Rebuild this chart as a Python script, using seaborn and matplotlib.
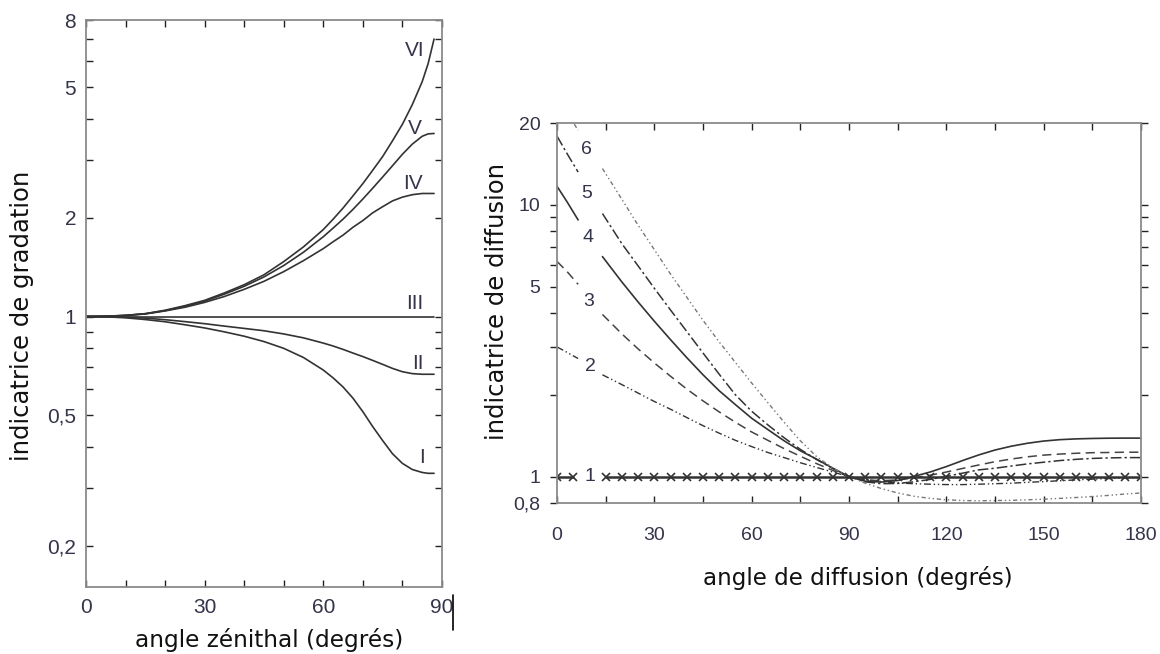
import numpy as np
import pandas as pd
import matplotlib
matplotlib.use("Agg")
import matplotlib.pyplot as plt
import seaborn as sns
from matplotlib.ticker import FixedLocator, FuncFormatter, NullFormatter
from matplotlib.lines import Line2D

# ---- left panel: indicatrice de gradation vs angle zenithal ----
zen_angle = [0, 5, 10, 15, 20, 25, 30, 35, 40, 45, 50, 55, 60, 62.5, 65, 67.5, 70,
             72.5, 75, 77.5, 80, 82.5, 85, 86.5, 88]
grad_I = [1, 0.998, 0.991, 0.979, 0.964, 0.944, 0.923, 0.898, 0.871, 0.839, 0.80, 0.75,
          0.687, 0.65, 0.61, 0.564, 0.513, 0.462, 0.419, 0.382, 0.357, 0.342, 0.335, 0.333, 0.333]
grad_II = [1, 0.999, 0.995, 0.989, 0.978, 0.965, 0.951, 0.935, 0.92, 0.905, 0.885, 0.861,
           0.83, 0.813, 0.794, 0.774, 0.755, 0.735, 0.715, 0.695, 0.679, 0.67, 0.667, 0.667, 0.667]
grad_III = [1] * 25
grad_IV = [1, 1.002, 1.007, 1.018, 1.04, 1.067, 1.104, 1.151, 1.21, 1.28, 1.37, 1.48,
           1.61, 1.69, 1.77, 1.87, 1.96, 2.07, 2.16, 2.25, 2.31, 2.35, 2.37, 2.37, 2.37]
grad_V = [1, 1.002, 1.008, 1.02, 1.042, 1.074, 1.114, 1.17, 1.236, 1.32, 1.43, 1.57,
          1.75, 1.86, 1.98, 2.12, 2.28, 2.46, 2.66, 2.88, 3.12, 3.35, 3.54, 3.6, 3.61]
grad_VI = [1, 1.002, 1.008, 1.02, 1.045, 1.079, 1.12, 1.18, 1.25, 1.34, 1.47, 1.63,
           1.84, 1.98, 2.14, 2.33, 2.54, 2.79, 3.07, 3.43, 3.85, 4.42, 5.19, 5.89, 7.0]
grad_names = ["I", "II", "III", "IV", "V", "VI"]
grad_label_x = [85, 84, 83.2, 82.7, 83.2, 83.2]
grad_label_y = [0.373, 0.72, 1.095, 2.54, 3.75, 6.48]

# ---- right panel: indicatrice de diffusion vs angle de diffusion ----
diff_angle = [0, 3, 6.5, 14] + list(range(20, 185, 5))
diff_2 = [3.0, 2.87, 2.72, 2.37,
          2.18, 2.03, 1.89, 1.77, 1.65, 1.54, 1.445, 1.36, 1.29, 1.227, 1.175, 1.125, 1.081,
          1.04, 1.0, 0.975, 0.959, 0.948, 0.942, 0.938, 0.935, 0.935, 0.938, 0.942, 0.946,
          0.953, 0.959, 0.966, 0.973, 0.979, 0.984, 0.989, 0.991]
diff_3 = [6.19, 5.70, 5.10, 3.95,
          3.35, 2.95, 2.62, 2.34, 2.10, 1.90, 1.73, 1.585, 1.46, 1.36, 1.268, 1.189, 1.117,
          1.054, 1.0, 0.973, 0.966, 0.973, 0.989, 1.012, 1.04, 1.072, 1.104, 1.135, 1.161,
          1.183, 1.2, 1.211, 1.219, 1.225, 1.227, 1.23, 1.23]
diff_4 = [11.7, 10.3, 8.8, 6.45,
          5.20, 4.39, 3.73, 3.19, 2.74, 2.37, 2.07, 1.84, 1.64, 1.49, 1.355, 1.245, 1.16,
          1.074, 1.0, 0.962, 0.955, 0.968, 1.002, 1.04, 1.089, 1.146, 1.202, 1.253, 1.294,
          1.327, 1.352, 1.368, 1.377, 1.382, 1.385, 1.386, 1.386]
diff_5 = [17.9, 15.5, 13.2, 9.29,
          7.19, 5.96, 4.93, 4.10, 3.42, 2.85, 2.38, 2.0, 1.74, 1.55, 1.39, 1.26, 1.156,
          1.072, 1.0, 0.957, 0.942, 0.944, 0.957, 0.977, 1.002, 1.03, 1.059, 1.074, 1.094,
          1.114, 1.13, 1.146, 1.158, 1.167, 1.172, 1.175, 1.175]
diff_6 = [24.5, 22.0, 18.8, 13.6,
          10.47, 8.41, 6.84, 5.56, 4.57, 3.76, 3.13, 2.63, 2.21, 1.87, 1.585, 1.355, 1.186,
          1.076, 1.0, 0.946, 0.904, 0.871, 0.847, 0.832, 0.822, 0.817, 0.815, 0.817, 0.818,
          0.822, 0.826, 0.832, 0.838, 0.845, 0.853, 0.863, 0.871]
diff_1_angle = [0, 5] + list(range(15, 185, 5))
diff_1 = [1.0] * len(diff_1_angle)
diff_names = ["1", "2", "3", "4", "5", "6"]
diff_label_x = [10.2, 10.2, 9.9, 9.6, 9.2, 9.2]
diff_label_y = [1.0, 2.55, 4.41, 7.6, 11.0, 16.0]

sns.set_style("white")
plt.rcParams["font.family"] = ["Liberation Sans", "DejaVu Sans"]

TXT = "#34344a"
LINE = "#333333"
SPINE = "#8a8a8a"

fig = plt.figure(figsize=(11.6, 6.54), dpi=100)
fig.patch.set_facecolor("white")
ax1 = fig.add_axes([0.0741, 0.1024, 0.3069, 0.8670])
ax2 = fig.add_axes([0.4802, 0.2309, 0.5034, 0.5810])

comma = FuncFormatter(lambda v, p: f"{v:g}".replace(".", ","))

# left panel curves
for vals in [grad_I, grad_II, grad_III, grad_IV, grad_V, grad_VI]:
    sns.lineplot(x=zen_angle, y=vals, ax=ax1, color=LINE, linewidth=1.2)
for name, lx, ly in zip(grad_names, grad_label_x, grad_label_y):
    ax1.text(lx, ly, name, ha="center", va="center", fontsize=15, color=TXT)

ax1.set_yscale("log")
ax1.set_xlim(0, 90)
ax1.set_ylim(0.15, 8)
ax1.xaxis.set_major_locator(FixedLocator([0, 30, 60, 90]))
ax1.xaxis.set_minor_locator(FixedLocator([10, 20, 40, 50, 70, 80]))
ax1.yaxis.set_major_locator(FixedLocator([0.2, 0.5, 1, 2, 5, 8]))
ax1.yaxis.set_minor_locator(FixedLocator([0.3, 0.4, 0.6, 0.7, 0.8, 0.9, 3, 4, 6, 7]))
ax1.yaxis.set_major_formatter(comma)
ax1.yaxis.set_minor_formatter(NullFormatter())
ax1.tick_params(which="both", direction="in", top=True, right=True, bottom=True, left=True,
                length=5, width=1, color="#222222", labelsize=15, labelcolor=TXT)
ax1.tick_params(axis="y", which="both", pad=7)
ax1.tick_params(axis="x", which="both", pad=8)

# right panel curves
def segs(angles, vals, cut):
    return pd.DataFrame({"angle": angles, "val": vals,
                         "seg": [0 if a < cut else 1 for a in angles]})

styles = {
    "2": dict(linestyle=(0, (5, 2, 1, 2, 1, 2)), color="#333333", linewidth=1.0),
    "3": dict(linestyle=(0, (6, 3.5)), color="#444444", linewidth=1.1),
    "4": dict(linestyle="-", color="#333333", linewidth=1.2),
    "5": dict(linestyle=(0, (7, 2, 1.5, 2)), color="#333333", linewidth=1.1),
    "6": dict(linestyle=(0, (3, 2, 1, 2, 1, 2)), color="#777777", linewidth=1.0),
}
for name, vals in zip(["2", "3", "4", "5", "6"], [diff_2, diff_3, diff_4, diff_5, diff_6]):
    df = segs(diff_angle, vals, 10)
    sns.lineplot(data=df, x="angle", y="val", units="seg", estimator=None, ax=ax2, **styles[name])

df1 = segs(diff_1_angle, diff_1, 10)
sns.lineplot(data=df1, x="angle", y="val", units="seg", estimator=None, ax=ax2,
             color="#333333", linewidth=1.8, marker="x", markersize=6,
             markeredgewidth=1.2, markeredgecolor="#333333")
for name, lx, ly in zip(diff_names, diff_label_x, diff_label_y):
    ax2.text(lx, ly, name, ha="center", va="center", fontsize=14, color=TXT)

ax2.set_yscale("log")
ax2.set_xlim(0, 180)
ax2.set_ylim(0.8, 20)
ax2.xaxis.set_major_locator(FixedLocator(list(range(0, 181, 30))))
ax2.xaxis.set_minor_locator(FixedLocator(list(range(15, 180, 30))))
ax2.yaxis.set_major_locator(FixedLocator([0.8, 1, 5, 10, 20]))
ax2.yaxis.set_minor_locator(FixedLocator([2, 3, 4, 6, 7, 8, 9]))
ax2.yaxis.set_major_formatter(comma)
ax2.yaxis.set_minor_formatter(NullFormatter())
ax2.tick_params(axis="x", which="both", direction="in", top=True, bottom=True, length=5,
                width=1, color="#222222", labelsize=14, labelcolor=TXT, pad=17)
ax2.tick_params(axis="y", which="both", direction="out", left=True, right=True, length=5,
                width=1, color="#222222", labelsize=14, labelcolor=TXT, pad=7)

for ax in (ax1, ax2):
    for s in ax.spines.values():
        s.set_visible(True)
        s.set_color(SPINE)
        s.set_linewidth(1.3)

# axis titles, centred where the original has them, sized to the original's length
titles = [
    (ax1.xaxis, "angle zénithal (degrés)", (0.514, -0.0935), 268, "x"),
    (ax1.yaxis, "indicatrice de gradation", (-0.18, 0.478), 290, "y"),
    (ax2.xaxis, "angle de diffusion (degrés)", (0.5146, -0.197), 311, "x"),
    (ax2.yaxis, "indicatrice de diffusion", (-0.103, 0.529), 278, "y"),
]
for axis, txt, (cx, cy), target, kind in titles:
    axis.set_label_text(txt, fontsize=15, family="DejaVu Sans", color="#111111")
    axis.label.set_va("center")
    axis.label.set_ha("center")
    axis.set_label_coords(cx, cy)

fig.canvas.draw()
renderer = fig.canvas.get_renderer()
for axis, txt, (cx, cy), target, kind in titles:
    bb = axis.label.get_window_extent(renderer)
    size = bb.width if kind == "x" else bb.height
    axis.label.set_fontsize(15 * target / size)

# stray cursor mark next to the "90" label of the original
fig.add_artist(Line2D([0.3905, 0.3905], [0.037, 0.09], color="black", linewidth=1.2))

fig.savefig("out.png", dpi=100, facecolor="white")
